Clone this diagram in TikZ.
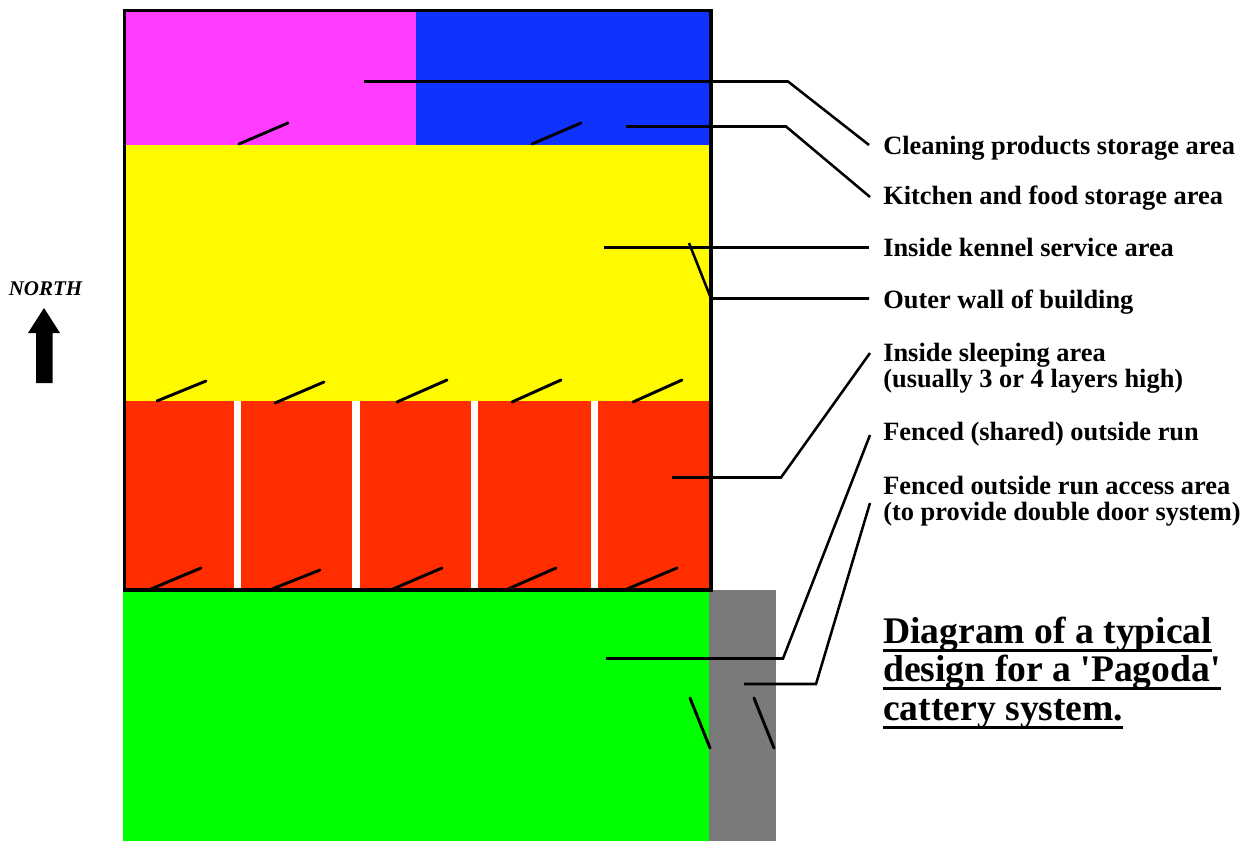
\documentclass[tikz,border=0pt]{standalone}
\usepackage{fontspec}
\setmainfont{Liberation Serif}
\newfontfamily\ttlfont{Liberation Serif}
\definecolor{cmag}{RGB}{255,60,255}
\definecolor{cblue}{RGB}{15,50,255}
\definecolor{cyel}{RGB}{255,250,0}
\definecolor{cred}{RGB}{255,45,0}
\definecolor{cgreen}{RGB}{0,255,0}
\definecolor{cgrey}{RGB}{122,122,122}
\newsavebox{\ulsave}
\newcommand{\thickul}[1]{\sbox{\ulsave}{#1}\rlap{\rule[-6.4pt]{\wd\ulsave}{2.2pt}}\usebox{\ulsave}}
\tikzset{
 area/.style={fill=#1,draw=none},
 leader/.style={draw=black,line width=1.9pt,line join=miter},
 tick/.style={draw=black,line width=2.2pt,line cap=round},
 lbl/.style={anchor=base west,inner sep=0pt,font=\fontsize{19.8}{19.5}\selectfont\bfseries},
 lbltwo/.style={anchor=west,inner sep=0pt,align=left,font=\fontsize{19.8}{19.5}\selectfont\bfseries},
 ttl/.style={anchor=north west,inner sep=0pt,align=left,font=\ttlfont\fontsize{28.2}{28.6}\selectfont\bfseries},
}
\begin{document}
\begin{tikzpicture}[x=0.75pt,y=-0.75pt]
\useasboundingbox (0,0) rectangle (1251,841);
% areas
\fill[area=cmag] (125,11) rectangle (416,145);
\fill[area=cblue] (416,11) rectangle (710,145);
\fill[area=cyel] (125,145) rectangle (710,401);
\fill[area=cred] (125,401) rectangle (710,589);
\foreach \x in {233.5,352,470.5,590.5} \fill[white] (\x,401) rectangle (\x+7.7,589);
\fill[area=cgreen] (123,590) rectangle (709,841);
\fill[area=cgrey] (709,589.5) rectangle (775.5,841);
\draw[black,line width=2.4pt,line join=miter] (124.5,10.5) rectangle (711,590);
% doors
\foreach \a/\b/\c/\d in {239/144/288/123,532/144/581/123,
 157/401/206/381,275/403/324/382,397/402/447/380,512/402/561/380,633/402/682/380,
 151/589/201/568,272/589/320/570,393/589/442/568,508/589/556/568,627/589/677/568,
 690/698/710/748,754/698/774/748}
  \draw[tick] (\a,\b) -- (\c,\d);
% north arrow
\node[anchor=base,inner sep=0pt,font=\fontsize{15.7}{17}\selectfont\bfseries\itshape] (north) at (45.5,296) {NORTH};
\fill[black] (44,308) -- (60,333) -- (52.5,333) -- (52.5,383) -- (36,383) -- (36,333) -- (28,333) -- cycle;
% labels
\node[lbl] (l1) at (883,155) {Cleaning products storage area};
\node[lbl] (l2) at (883,205) {Kitchen and food storage area};
\node[lbl] (l3) at (883,257) {Inside kennel service area};
\node[lbl] (l4) at (883,309) {Outer wall of building};
\node[lbltwo] (l5) at (883,368.5) {Inside sleeping area\\(usually 3 or 4 layers high)};
\node[lbl] (l6) at (883,440.5) {Fenced (shared) outside run};
\node[lbltwo] (l7) at (883,501.5) {Fenced outside run access area\\(to provide double door system)};
\node[ttl] (title) at (883,617) {\thickul{Diagram of a typical}\\\thickul{design for a 'Pagoda'}\\\thickul{cattery system.}};
% leader anchors
\coordinate (a1) at (364,81.5);
\coordinate (b1) at (788,81.5);
\coordinate (c1) at (869,145);
\coordinate (a2) at (626,126.5);
\coordinate (b2) at (786,126.5);
\coordinate (c2) at (870,197);
\coordinate (a3) at (604,247.5);
\coordinate (c3) at (869,247.5);
\coordinate (a4) at (689,243);
\coordinate (b4) at (711,298.5);
\coordinate (c4) at (869,298.5);
\coordinate (a5) at (672,477.5);
\coordinate (b5) at (781,477.5);
\coordinate (c5) at (870,353);
\coordinate (a6) at (606,658.5);
\coordinate (b6) at (783,658.5);
\coordinate (c6) at (870,435);
\coordinate (a7) at (744,684);
\coordinate (b7) at (816,684);
\coordinate (c7) at (870,503);
\draw[leader] (a1) -- (b1) -- (c1);
\draw[leader] (a2) -- (b2) -- (c2);
\draw[leader] (a3) -- (c3);
\draw[leader] (a4) -- (b4) -- (c4);
\draw[leader] (a5) -- (b5) -- (c5);
\draw[leader] (a6) -- (b6) -- (c6);
\draw[leader] (a7) -- (b7) -- (c7);
\end{tikzpicture}
\end{document}
